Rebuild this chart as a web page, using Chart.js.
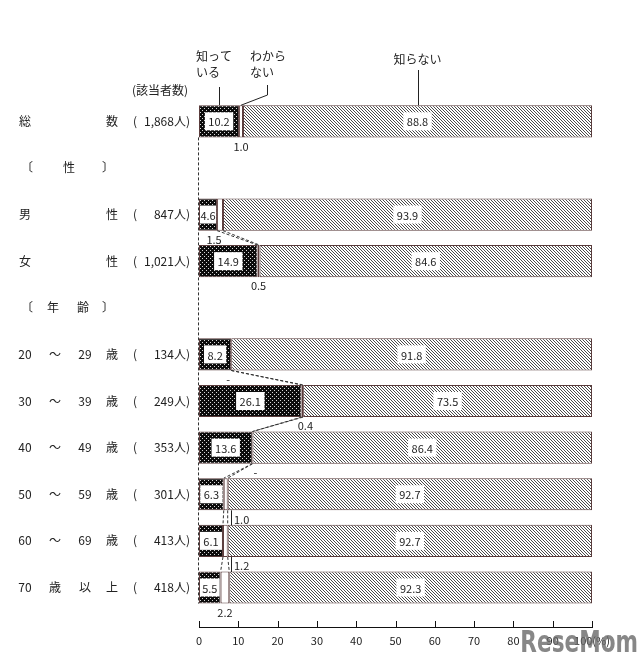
<!DOCTYPE html>
<html lang="ja">
<head>
<meta charset="utf-8">
<script src="https://cdn.jsdelivr.net/npm/chart.js@4.4.1/dist/chart.umd.min.js"></script>
<style>
  html, body { margin: 0; padding: 0; background: #fff; }
  #wrap { width: 640px; height: 664px; }
</style>
</head>
<body>
<div id="wrap"><canvas id="grafico" width="640" height="664"></canvas></div>
<script>
// Datos del gráfico
const categorias = ['総数', '〔性〕', '男性', '女性', '〔年齢〕', '20～29歳', '30～39歳', '40～49歳', '50～59歳', '60～69歳', '70歳以上'];
const personas = ['1,868人', null, '847人', '1,021人', null, '134人', '249人', '353人', '301人', '413人', '418人'];
const conoce = [10.2, null, 4.6, 14.9, null, 8.2, 26.1, 13.6, 6.3, 6.1, 5.5];
const noSabe = [1.0, null, 1.5, 0.5, null, 0, 0.4, 0, 1.0, 1.2, 2.2];
const noConoce = [88.8, null, 93.9, 84.6, null, 91.8, 73.5, 86.4, 92.7, 92.7, 92.3];
const ticksX = [0, 10, 20, 30, 40, 50, 60, 70, 80, 90, 100];
const nombresSerie = ['知って\nいる', 'わから\nない', '知らない'];

const FUENTE = '"Noto Sans CJK JP", "Noto Sans", sans-serif';
const TINTA = '#222';
const BORDE = '#5a3c3c';

// Patrones de relleno
function patronPunteado() {
    const c = document.createElement('canvas');
    c.width = 4; c.height = 4;
    const g = c.getContext('2d');
    g.fillStyle = '#0c0c0c';
    g.fillRect(0, 0, 4, 4);
    g.fillStyle = '#d8d8d8';
    g.fillRect(0, 0, 1, 1);
    g.fillRect(2, 2, 1, 1);
    return g.createPattern(c, 'repeat');
}

function patronRayado() {
    const c = document.createElement('canvas');
    c.width = 3; c.height = 3;
    const g = c.getContext('2d');
    g.fillStyle = '#fff';
    g.fillRect(0, 0, 3, 3);
    g.fillStyle = '#4a4a4a';
    g.fillRect(0, 0, 1, 1);
    g.fillRect(1, 1, 1, 1);
    g.fillRect(2, 2, 1, 1);
    return g.createPattern(c, 'repeat');
}

function fmt(v) {
    return v === 0 ? '-' : v.toFixed(1);
}

// ¿la fila siguiente pertenece al mismo grupo?
function siguienteEnGrupo(i) {
    return i + 1 < categorias.length && conoce[i] !== null && conoce[i + 1] !== null;
}

// Etiquetas, conectores y eje dibujados a mano
const dibujo = {
    id: 'dibujo',
    afterDatasetsDraw(chart) {
        const ctx = chart.ctx;
        const xs = chart.scales.x;
        const ys = chart.scales.y;
        const m0 = chart.getDatasetMeta(0).data;
        const m1 = chart.getDatasetMeta(1).data;
        const m2 = chart.getDatasetMeta(2).data;
        ctx.save();

        // línea discontinua a la izquierda
        const primero = m0[0];
        const ultimo = m0[categorias.length - 1];
        const x0 = Math.round(xs.getPixelForValue(0)) - 0.5;
        ctx.strokeStyle = '#333';
        ctx.lineWidth = 1;
        ctx.setLineDash([3, 2]);
        ctx.beginPath();
        ctx.moveTo(x0, primero.y + primero.height / 2);
        ctx.lineTo(x0, ultimo.y + ultimo.height / 2);
        ctx.stroke();

        // conectores entre barras del mismo grupo
        for (let i = 0; i < categorias.length - 1; i++) {
            if (!siguienteEnGrupo(i)) continue;
            const a = m0[i], b = m0[i + 1];
            const y1 = a.y + a.height / 2;
            const y2 = b.y - b.height / 2;
            const cortes = [
                [conoce[i], conoce[i + 1]],
                [conoce[i] + noSabe[i], conoce[i + 1] + noSabe[i + 1]]
            ];
            cortes.forEach(([p, q]) => {
                ctx.beginPath();
                ctx.moveTo(xs.getPixelForValue(p), y1);
                ctx.lineTo(xs.getPixelForValue(q), y2);
                ctx.stroke();
            });
        }
        ctx.setLineDash([]);

        // valores dentro de las barras
        ctx.font = '11px ' + FUENTE;
        ctx.textAlign = 'center';
        ctx.textBaseline = 'middle';
        [[m0, conoce], [m2, noConoce]].forEach(([meta, valores]) => {
            valores.forEach((v, i) => {
                if (v === null) return;
                const el = meta[i];
                const izq = Math.min(el.x, el.base);
                const der = Math.max(el.x, el.base);
                const cx = (izq + der) / 2;
                const txt = fmt(v);
                let w = ctx.measureText(txt).width + 7;
                let bx = cx - w / 2;
                if (w > der - izq - 2) {
                    bx = izq + 1;
                    w = der - izq - 2;
                }
                ctx.fillStyle = '#fff';
                ctx.fillRect(bx, el.y - 9, w, 18);
                ctx.fillStyle = TINTA;
                ctx.fillText(txt, cx, el.y + 1);
            });
        });

        // valores de わからない bajo cada barra
        noSabe.forEach((v, i) => {
            if (v === null) return;
            const el = m1[i];
            const abajo = el.y + el.height / 2;
            const yTxt = abajo + 9;
            const izq = xs.getPixelForValue(conoce[i]);
            const der = xs.getPixelForValue(conoce[i] + v);
            ctx.fillStyle = TINTA;
            if (!siguienteEnGrupo(i)) {
                ctx.textAlign = 'center';
                ctx.fillText(fmt(v), (izq + der) / 2, yTxt);
                return;
            }
            const delta = (conoce[i + 1] + noSabe[i + 1]) - (conoce[i] + v);
            if (Math.abs(delta) < 3) {
                const lx = Math.round(der) + 3;
                ctx.fillRect(lx, abajo, 1, 15);
                ctx.textAlign = 'left';
                ctx.fillText(fmt(v), lx + 3, yTxt);
            } else if (delta > 0) {
                ctx.textAlign = 'center';
                ctx.fillText(fmt(v), izq - 3, yTxt);
            } else {
                ctx.textAlign = 'center';
                ctx.fillText(fmt(v), (izq + der) / 2 + 3, yTxt);
            }
        });

        // etiquetas de filas
        const cols = [25, 55, 85, 112];
        ctx.font = '12px ' + FUENTE;
        categorias.forEach((cat, i) => {
            const y = ys.getPixelForValue(i);
            ctx.fillStyle = TINTA;
            ctx.textAlign = 'center';
            if (cat.startsWith('〔')) {
                const dentro = cat.slice(1, -1);
                ctx.fillText('〔', 27, y);
                ctx.fillText('〕', 108, y);
                if (dentro.length === 1) {
                    ctx.fillText(dentro, 69, y);
                } else {
                    ctx.fillText(dentro[0], 53, y);
                    ctx.fillText(dentro[1], 83, y);
                }
                return;
            }
            const partes = cat.match(/\d+|./g);
            if (partes.length === 2) {
                ctx.fillText(partes[0], cols[0], y);
                ctx.fillText(partes[1], cols[3], y);
            } else {
                partes.forEach((p, k) => ctx.fillText(p, cols[k], y));
            }
            if (personas[i]) {
                ctx.fillText('(', 135, y);
                ctx.textAlign = 'right';
                ctx.fillText(personas[i] + ')', 190, y);
            }
        });

        // encabezados de las series y líneas guía
        const base0 = m0[0];
        const topBarra = base0.y - base0.height / 2;
        const xConoce = (m0[0].x + m0[0].base) / 2;
        const xNoSabe = (m1[0].x + m1[0].base) / 2;
        const xNoConoce = (m2[0].x + m2[0].base) / 2;
        ctx.fillStyle = TINTA;
        const lineas0 = nombresSerie[0].split('\n');
        const lineas1 = nombresSerie[1].split('\n');
        ctx.textAlign = 'left';
        ctx.fillText(lineas0[0], xConoce - 23, 56);
        ctx.fillText(lineas0[1], xConoce - 23, 72);
        ctx.fillText(lineas1[0], xNoSabe + 9, 56);
        ctx.fillText(lineas1[1], xNoSabe + 9, 72);
        ctx.textAlign = 'center';
        ctx.fillText(nombresSerie[2], xNoConoce, 59);
        ctx.fillText('(該当者数)', 160, 90);

        ctx.strokeStyle = TINTA;
        ctx.beginPath();
        ctx.moveTo(Math.round(xConoce) + 0.5, 87);
        ctx.lineTo(Math.round(xConoce) + 0.5, topBarra);
        ctx.moveTo(Math.round(xNoSabe) + 26.5, 85);
        ctx.lineTo(Math.round(xNoSabe) + 26.5, 95);
        ctx.lineTo(xNoSabe, topBarra);
        ctx.moveTo(Math.round(xNoConoce) + 0.5, 70);
        ctx.lineTo(Math.round(xNoConoce) + 0.5, topBarra);
        ctx.stroke();

        ctx.restore();
    },
    afterDraw(chart) {
        const ctx = chart.ctx;
        const xs = chart.scales.x;
        ctx.save();

        // eje X con marcas hacia arriba
        const yEje = Math.round(chart.chartArea.bottom + 16);
        const xa = Math.round(xs.getPixelForValue(0));
        const xb = Math.round(xs.getPixelForValue(100));
        ctx.fillStyle = '#111';
        ctx.fillRect(xa, yEje, xb - xa + 1, 1);
        ticksX.forEach(t => {
            const px = Math.round(xs.getPixelForValue(t));
            ctx.fillRect(px, yEje - 6, 1, 6);
        });

        // marca de agua
        ctx.translate(638, 652);
        ctx.scale(0.72, 1);
        ctx.font = 'bold 30px "DejaVu Sans", sans-serif';
        ctx.textAlign = 'right';
        ctx.textBaseline = 'alphabetic';
        ctx.fillStyle = 'rgba(105,105,105,0.8)';
        ctx.fillText('ReseMom', 0, 0);
        ctx.restore();
    }
};

document.addEventListener('DOMContentLoaded', () => {
    const ctx = document.getElementById('grafico').getContext('2d');
    const serie = (datos, relleno, nombre) => ({
        label: nombre,
        data: datos,
        backgroundColor: relleno,
        borderColor: BORDE,
        borderWidth: 1,
        borderSkipped: false,
        barPercentage: 0.69,
        categoryPercentage: 1.0
    });

    new Chart(ctx, {
        type: 'bar',
        data: {
            labels: categorias,
            datasets: [
                serie(conoce, patronPunteado(), nombresSerie[0]),
                serie(noSabe, '#fff', nombresSerie[1]),
                serie(noConoce, patronRayado(), nombresSerie[2])
            ]
        },
        options: {
            indexAxis: 'y',
            responsive: false,
            animation: false,
            devicePixelRatio: 1,
            layout: { padding: { left: 199, right: 48, top: 98, bottom: 2 } },
            plugins: {
                legend: { display: false },
                tooltip: { enabled: false }
            },
            scales: {
                x: {
                    type: 'linear',
                    stacked: true,
                    min: 0,
                    max: 100,
                    grid: { display: false },
                    border: { display: false },
                    afterBuildTicks: (eje) => { eje.ticks = ticksX.map(v => ({ value: v })); },
                    ticks: {
                        autoSkip: false,
                        maxRotation: 0,
                        padding: 15,
                        color: TINTA,
                        font: { family: FUENTE, size: 11 },
                        callback: v => v === 100 ? '100(%)' : v
                    }
                },
                y: {
                    type: 'category',
                    stacked: true,
                    grid: { display: false, drawTicks: false },
                    border: { display: false },
                    ticks: { display: false }
                }
            }
        },
        plugins: [dibujo]
    });
});
</script>
</body>
</html>
